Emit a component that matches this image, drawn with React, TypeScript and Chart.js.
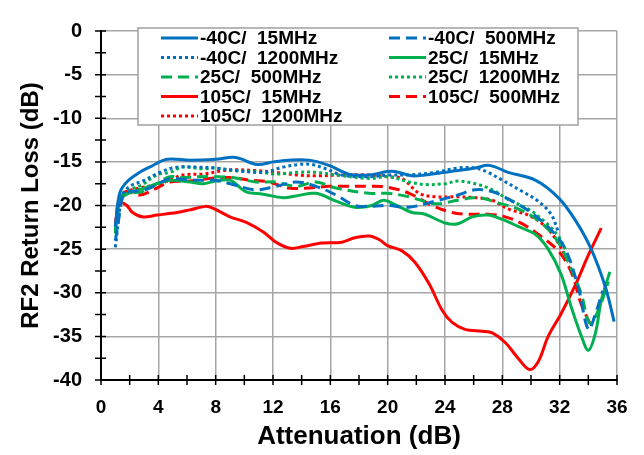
import { useEffect, useRef } from 'react';
import { Chart, registerables } from 'chart.js';

Chart.register(...registerables);

const BLUE = '#0070C0';
const GREEN = '#00B050';
const RED = '#FF0000';
const FONT = '"Liberation Sans", Arial, sans-serif';

const xTicks = [0, 4, 8, 12, 16, 20, 24, 28, 32, 36];
const yTicks = [0, -5, -10, -15, -20, -25, -30, -35, -40];

const labels = [
  '-40C/  15MHz',
  '-40C/  500MHz',
  '-40C/  1200MHz',
  '25C/  15MHz',
  '25C/  500MHz',
  '25C/  1200MHz',
  '105C/  15MHz',
  '105C/  500MHz',
  '105C/  1200MHz',
];

// -40C / 15MHz
const m40_15_x = [1.0, 1.3, 1.8, 2.7, 3.4, 4.6, 6.2, 8.0, 9.4, 10.9, 12.0, 13.1, 14.5, 15.9, 17.3, 18.7, 20.0, 20.5, 21.7, 22.6, 24.0, 24.9, 26.1, 27.1, 28.4, 30.3, 31.9, 33.1, 34.2, 35.2, 35.8];
const m40_15_y = [-22.4, -18.6, -17.3, -16.2, -15.6, -14.7, -14.8, -14.7, -14.5, -15.3, -15.0, -14.8, -14.8, -15.4, -16.4, -16.5, -16.1, -16.1, -16.6, -16.5, -16.2, -16.0, -15.7, -15.4, -16.2, -17.1, -19.1, -21.7, -25.0, -29.4, -33.3];
// -40C / 500MHz
const m40_500_x = [1.0, 1.2, 1.5, 2.0, 2.9, 3.9, 4.8, 5.7, 6.9, 8.0, 9.2, 10.8, 12.2, 13.6, 15.0, 16.4, 17.7, 18.5, 20.0, 21.5, 23.3, 24.9, 26.1, 27.3, 28.7, 30.0, 31.4, 32.4, 33.3, 34.0, 34.5, 35.0];
const m40_500_y = [-24.0, -22.0, -19.1, -18.4, -18.3, -17.6, -16.9, -17.0, -17.1, -17.1, -17.6, -18.2, -17.8, -17.3, -17.8, -18.8, -20.0, -20.1, -20.0, -20.2, -19.5, -18.8, -18.2, -18.4, -19.5, -20.8, -22.8, -25.0, -29.4, -34.2, -32.4, -29.8];
// -40C / 1200MHz
const m40_1200_x = [1.0, 1.5, 2.0, 2.9, 4.1, 5.3, 6.6, 8.0, 9.4, 11.3, 12.7, 13.8, 14.7, 15.7, 16.8, 18.7, 20.0, 21.5, 23.3, 24.9, 26.1, 27.0, 28.0, 29.4, 30.5, 31.4, 31.9];
const m40_1200_y = [-24.8, -18.8, -17.8, -17.2, -16.2, -15.6, -15.6, -15.7, -16.0, -16.2, -15.6, -15.3, -15.3, -15.8, -16.5, -16.7, -16.5, -16.5, -16.2, -15.7, -15.7, -16.2, -17.1, -18.4, -19.5, -21.0, -23.0];
// 25C / 15MHz
const p25_15_x = [1.0, 1.3, 1.8, 3.0, 3.9, 4.8, 6.2, 7.1, 8.0, 9.0, 10.1, 11.3, 12.7, 13.6, 15.0, 16.4, 17.7, 18.9, 19.7, 20.5, 21.7, 22.6, 24.0, 24.9, 25.9, 27.0, 28.0, 29.1, 30.3, 31.2, 32.1, 32.8, 33.5, 34.0, 34.5, 34.9, 35.5];
const p25_15_y = [-22.8, -19.4, -18.7, -18.0, -17.5, -17.1, -17.3, -17.5, -17.2, -17.1, -18.4, -18.7, -19.1, -18.9, -18.6, -19.5, -20.2, -20.0, -19.4, -19.9, -20.8, -21.0, -22.0, -22.1, -21.3, -21.1, -21.6, -22.4, -23.3, -25.0, -27.9, -31.6, -34.9, -36.6, -34.6, -30.9, -27.6];
// 25C / 500MHz
const p25_500_x = [1.0, 1.3, 2.0, 2.9, 3.9, 4.8, 5.7, 6.9, 8.0, 9.2, 10.8, 12.2, 13.6, 15.0, 16.4, 18.7, 20.0, 21.5, 23.3, 24.9, 26.3, 27.7, 29.1, 30.5, 31.7, 32.6, 33.5, 34.1, 34.7, 35.4];
const p25_500_y = [-23.2, -19.1, -18.6, -18.4, -17.5, -16.7, -16.8, -16.7, -16.7, -16.8, -17.3, -17.3, -17.8, -17.3, -18.0, -18.6, -18.6, -19.0, -19.8, -19.4, -19.1, -19.7, -20.4, -21.7, -23.7, -26.5, -30.1, -33.5, -32.0, -28.7];
// 25C / 1200MHz
const p25_1200_x = [1.0, 1.5, 2.0, 2.9, 3.9, 4.8, 5.7, 7.1, 8.0, 9.2, 10.8, 12.2, 13.6, 15.0, 16.4, 18.7, 20.0, 21.5, 22.6, 24.0, 24.9, 26.1, 27.3, 28.4, 29.8, 31.0, 31.9, 32.4];
const p25_1200_y = [-22.8, -18.8, -18.2, -17.6, -16.5, -16.2, -15.6, -15.8, -15.7, -16.0, -16.1, -16.4, -16.2, -16.2, -16.5, -16.9, -16.7, -17.3, -17.6, -17.5, -17.2, -17.5, -18.2, -19.3, -20.4, -21.9, -23.5, -25.0];
// 105C / 15MHz
const p105_15_x = [1.0, 1.2, 1.4, 1.8, 2.2, 2.9, 3.9, 5.3, 6.2, 7.3, 7.8, 9.0, 10.1, 11.3, 12.2, 13.2, 14.1, 15.4, 16.8, 17.7, 18.7, 19.4, 20.0, 21.0, 21.9, 22.9, 23.8, 24.5, 25.4, 26.6, 27.3, 28.2, 29.1, 29.9, 30.5, 31.2, 32.1, 33.1, 34.0, 34.9];
const p105_15_y = [-22.4, -20.2, -19.7, -20.0, -20.8, -21.3, -21.1, -20.8, -20.5, -20.1, -20.3, -21.3, -21.9, -23.0, -24.2, -24.9, -24.7, -24.3, -24.2, -23.7, -23.5, -23.9, -24.6, -25.2, -26.5, -29.0, -32.0, -33.4, -34.2, -34.4, -34.6, -35.7, -37.5, -38.8, -37.9, -35.0, -32.4, -29.1, -25.7, -22.6];
// 105C / 500MHz
const p105_500_x = [1.0, 1.3, 1.8, 2.7, 3.9, 4.8, 6.2, 7.6, 9.0, 10.4, 11.7, 13.1, 14.5, 15.9, 17.3, 18.7, 20.0, 21.5, 23.1, 24.5, 25.6, 27.0, 28.2, 29.4, 30.5, 31.9, 32.8, 33.5, 34.1];
const p105_500_y = [-22.4, -19.1, -18.4, -18.8, -18.0, -17.3, -17.2, -16.9, -16.8, -17.1, -17.3, -18.0, -18.0, -17.8, -17.8, -17.8, -17.9, -18.6, -20.0, -20.8, -21.0, -21.0, -21.3, -22.1, -23.3, -25.2, -27.6, -31.3, -33.5];
// 105C / 1200MHz
const p105_1200_x = [1.0, 1.3, 1.8, 2.7, 3.9, 4.8, 5.7, 7.1, 8.5, 9.4, 10.8, 12.2, 13.6, 15.0, 16.8, 18.7, 20.0, 21.0, 22.2, 23.3, 24.7, 26.1, 27.3, 28.4, 29.8, 31.0, 31.9, 32.6];
const p105_1200_y = [-22.4, -19.1, -18.4, -18.0, -17.6, -17.1, -16.5, -16.4, -16.0, -15.9, -16.0, -16.2, -16.5, -16.6, -16.5, -16.5, -16.7, -16.9, -18.6, -19.0, -19.0, -19.1, -19.4, -20.4, -21.1, -22.4, -24.3, -26.5];

const seriesX = [m40_15_x, m40_500_x, m40_1200_x, p25_15_x, p25_500_x, p25_1200_x, p105_15_x, p105_500_x, p105_1200_x];
const seriesY = [m40_15_y, m40_500_y, m40_1200_y, p25_15_y, p25_500_y, p25_1200_y, p105_15_y, p105_500_y, p105_1200_y];
const seriesColors = [BLUE, BLUE, BLUE, GREEN, GREEN, GREEN, RED, RED, RED];

const SOLID: number[] = [];
const DASH = [11, 6];
const DOT = [3, 3];
const seriesDash = [SOLID, DASH, DOT, SOLID, DASH, DOT, SOLID, DASH, DOT];

const LEGEND_BOX = { left: 138, top: 28, right: 578, bottom: 125 };
const LEGEND_COLS = [161, 389];
const LEGEND_ROW0 = 38;
const LEGEND_ROW_H = 19.5;
const LEGEND_SAMPLE = 37;

const boxLegend = {
  id: 'boxLegend',
  afterDraw(chart: any) {
    const ctx = chart.ctx as CanvasRenderingContext2D;
    ctx.save();
    ctx.fillStyle = '#ffffff';
    ctx.fillRect(LEGEND_BOX.left, LEGEND_BOX.top, LEGEND_BOX.right - LEGEND_BOX.left, LEGEND_BOX.bottom - LEGEND_BOX.top);
    ctx.strokeStyle = '#a0a0a0';
    ctx.lineWidth = 1.5;
    ctx.strokeRect(LEGEND_BOX.left, LEGEND_BOX.top, LEGEND_BOX.right - LEGEND_BOX.left, LEGEND_BOX.bottom - LEGEND_BOX.top);
    ctx.font = `bold 19px ${FONT}`;
    ctx.textBaseline = 'middle';
    ctx.textAlign = 'left';
    chart.data.datasets.forEach((ds: any, i: number) => {
      const col = i % 2;
      const row = Math.floor(i / 2);
      const x0 = LEGEND_COLS[col];
      const y = LEGEND_ROW0 + row * LEGEND_ROW_H;
      ctx.strokeStyle = ds.borderColor;
      ctx.lineWidth = 3;
      ctx.setLineDash(ds.borderDash || []);
      ctx.lineCap = 'butt';
      ctx.beginPath();
      ctx.moveTo(x0, y);
      ctx.lineTo(x0 + LEGEND_SAMPLE, y);
      ctx.stroke();
      ctx.setLineDash([]);
      ctx.fillStyle = '#000000';
      ctx.fillText(ds.label, x0 + LEGEND_SAMPLE + 2, y + 1);
    });
    ctx.restore();
  },
};

const crossTicks = {
  id: 'crossTicks',
  afterDatasetsDraw(chart: any) {
    const ctx = chart.ctx as CanvasRenderingContext2D;
    const xs = chart.scales.x;
    const ys = chart.scales.y;
    const area = chart.chartArea;
    ctx.save();
    ctx.strokeStyle = '#000000';
    ctx.lineWidth = 1.5;
    ctx.beginPath();
    xs.ticks.forEach((t: any) => {
      const px = xs.getPixelForValue(t.value);
      ctx.moveTo(px, area.bottom - 5);
      ctx.lineTo(px, area.bottom + 5);
    });
    ys.ticks.forEach((t: any) => {
      const py = ys.getPixelForValue(t.value);
      ctx.moveTo(area.left - 6, py);
      ctx.lineTo(area.left + 5, py);
    });
    ctx.stroke();
    ctx.restore();
  },
};

export default function App() {
  const ref = useRef<HTMLCanvasElement>(null);
  useEffect(() => {
    document.body.style.margin = '0';
    const datasets = seriesX.map((xs, i) => ({
      label: labels[i],
      data: xs.map((x, j) => ({ x, y: seriesY[i][j] })),
      borderColor: seriesColors[i],
      backgroundColor: seriesColors[i],
      borderWidth: 3,
      borderDash: seriesDash[i],
      pointRadius: 0,
      tension: 0.35,
      fill: false,
    }));
    const chart = new Chart(ref.current as HTMLCanvasElement, {
      type: 'line',
      data: { datasets },
      options: {
        animation: false,
        responsive: false,
        layout: { padding: { left: 0, right: 27, top: 17, bottom: 0 } },
        plugins: { legend: { display: false }, tooltip: { enabled: false } },
        scales: {
          x: {
            type: 'linear',
            min: xTicks[0],
            max: xTicks[xTicks.length - 1],
            ticks: {
              stepSize: 2,
              autoSkip: false,
              maxRotation: 0,
              padding: 16,
              color: '#000',
              font: { family: FONT, size: 19, weight: 'bold' },
              callback: (v: any) => (xTicks.includes(Number(v)) ? String(v) : ''),
            },
            grid: {
              drawTicks: false,
              lineWidth: 1.5,
              color: (c: any) => (xTicks.includes(c.tick?.value) ? '#a6a6a6' : 'rgba(0,0,0,0)'),
            },
            border: { display: true, color: '#000', width: 2 },
            title: {
              display: true,
              text: 'Attenuation (dB)',
              color: '#000',
              font: { family: FONT, size: 26, weight: 'bold', lineHeight: 1 },
              padding: { top: 0, bottom: 5 },
            },
            afterFit: (s: any) => {
              s.height = 75;
            },
          },
          y: {
            type: 'linear',
            min: yTicks[yTicks.length - 1],
            max: yTicks[0],
            ticks: {
              stepSize: 2.5,
              autoSkip: false,
              padding: 19,
              color: '#000',
              font: { family: FONT, size: 20, weight: 'bold' },
              callback: (v: any) => (yTicks.includes(Number(v)) ? String(v) : ''),
            },
            grid: {
              drawTicks: false,
              lineWidth: 1.5,
              color: (c: any) => (yTicks.includes(c.tick?.value) ? '#a6a6a6' : 'rgba(0,0,0,0)'),
            },
            border: { display: true, color: '#000', width: 2 },
            title: {
              display: true,
              text: 'RF2 Return Loss (dB)',
              color: '#000',
              font: { family: FONT, size: 24, weight: 'bold', lineHeight: 1 },
              padding: { top: 19, bottom: 0 },
            },
            afterFit: (s: any) => {
              s.width = 101;
            },
          },
        },
      },
      plugins: [crossTicks, boxLegend],
    });
    return () => chart.destroy();
  }, []);
  return (
    <div style={{ width: 644, height: 455 }}>
      <canvas ref={ref} width={644} height={455} style={{ display: 'block' }} />
    </div>
  );
}
